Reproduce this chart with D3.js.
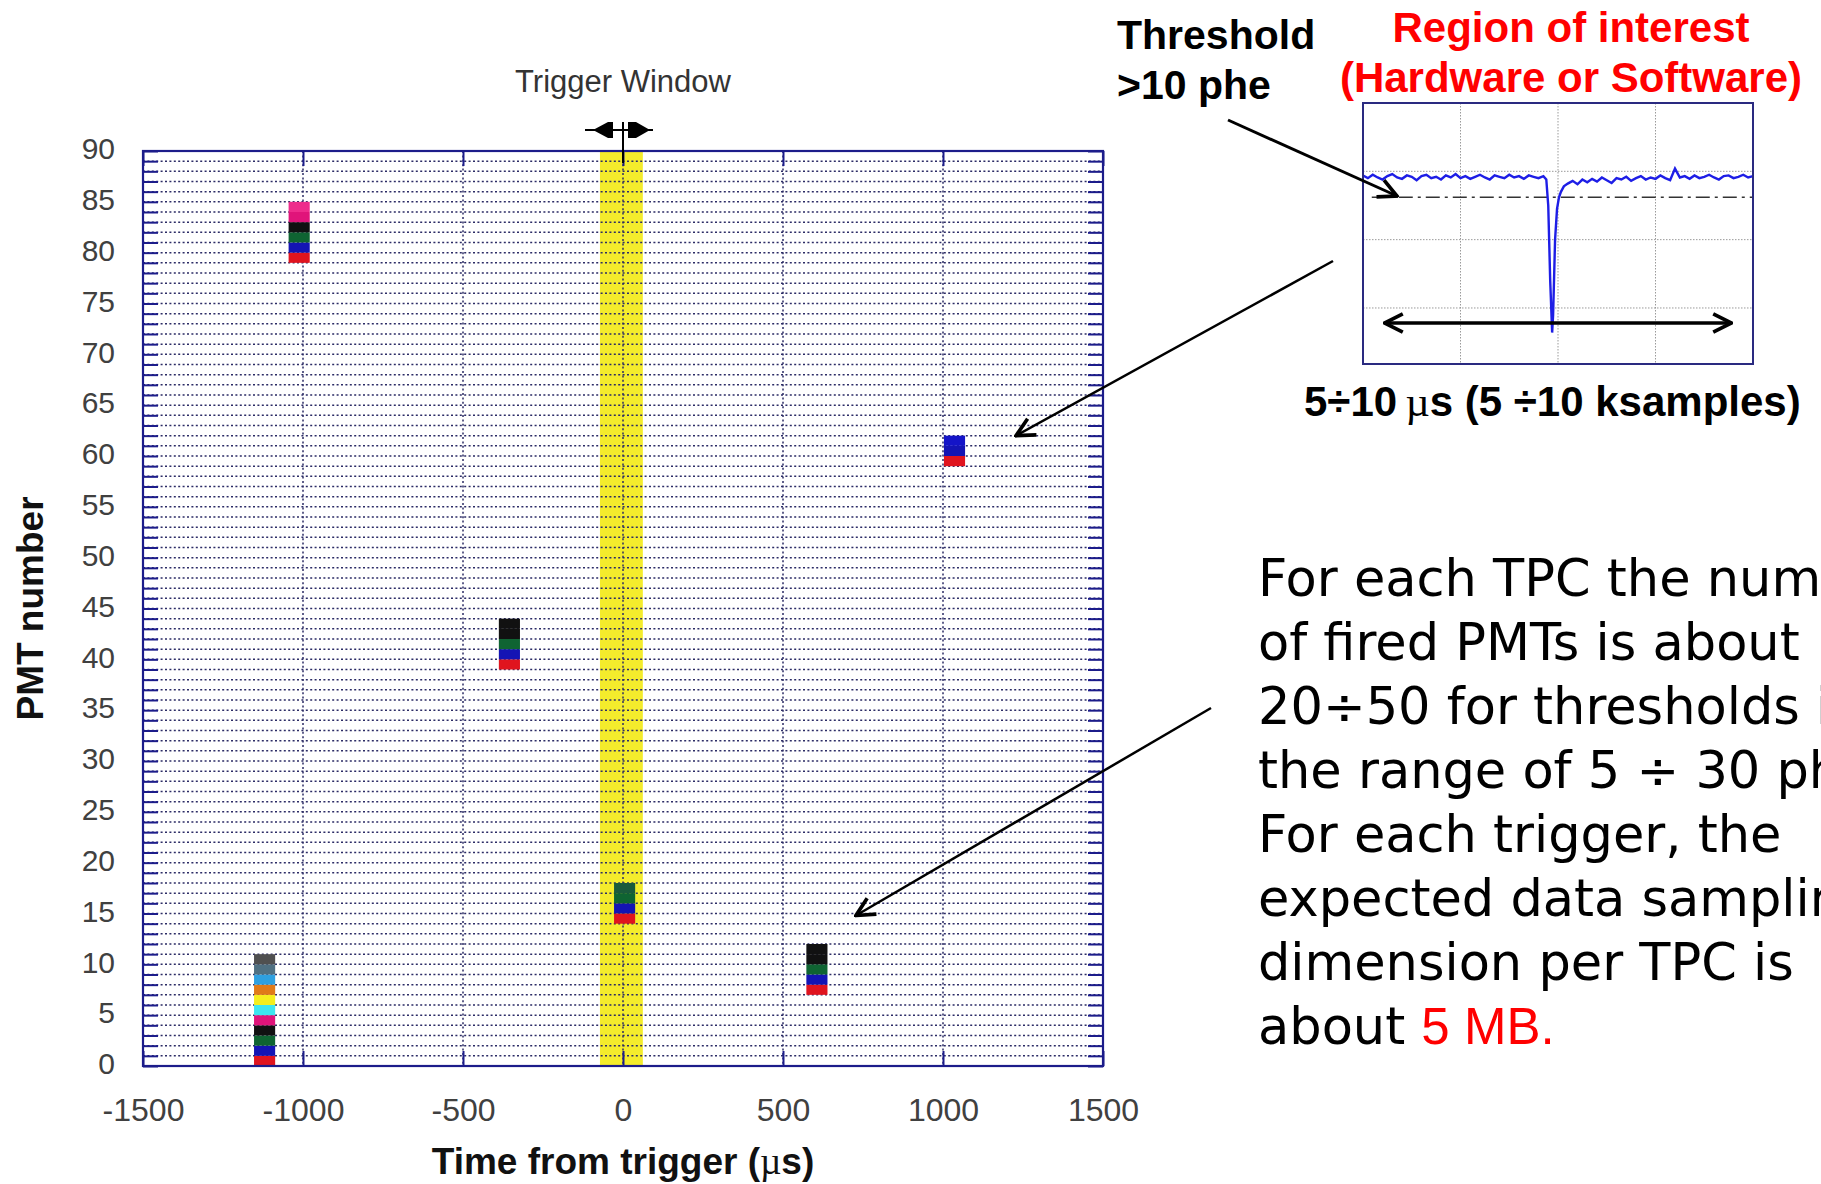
<!DOCTYPE html>
<html>
<head>
<meta charset="utf-8">
<script src="https://cdn.jsdelivr.net/npm/d3@7"></script>
<style>
  body { margin: 0; background: #fff; }
  svg { display: block; }
</style>
</head>
<body>
<div id="chart"></div>
<script>
// ---- data ----
// x ticks (time from trigger, us) and y ticks (PMT number)
var xTicks = [-1500, -1000, -500, 0, 500, 1000, 1500];
var yTicks = [0, 5, 10, 15, 20, 25, 30, 35, 40, 45, 50, 55, 60, 65, 70, 75, 80, 85, 90];

// trigger window band (us)
var windowRange = [-72, 62];

// fired PMT clusters: time, first PMT, colour of each stacked cell (bottom up)
var hitTimes = [-1120, -1012, -355, 5, 606, 1036];
var hitStart = [0, 79, 39, 14, 7, 59];
var hitColors = [
  ["#e0141e", "#1414b4", "#0f6432", "#111111", "#e0147a", "#3ee6f0", "#f5ee1e", "#e07a18", "#2ea0e0", "#4f7082", "#505050"],
  ["#e0141e", "#1414b4", "#0f6432", "#111111", "#e0147a", "#ee2c8c"],
  ["#e0141e", "#1414b4", "#0f6432", "#111111", "#111111"],
  ["#e0141e", "#1414b4", "#0f6432", "#1a5a3c"],
  ["#e0141e", "#1414b4", "#0f6432", "#111111", "#111111"],
  ["#e0141e", "#1414b4", "#1414c8"]
];

// inset waveform (sample index, amplitude in grid units)
var traceS = [0, 5, 10, 15, 20, 25, 30, 35, 40, 45, 50, 55, 60, 65, 70, 75, 80, 85, 90, 95,
  100, 105, 110, 115, 120, 125, 130, 135, 140, 145, 150, 155, 160, 165, 170, 175, 180, 185,
  188, 190, 192, 194, 195, 197, 199, 201, 203, 206,
  210, 215, 220, 225, 230, 235, 240, 245, 250, 255, 260, 265, 270, 275, 280, 285, 290, 295,
  300, 305, 310, 315, 320, 325, 330, 335, 340, 345, 350, 355, 360, 365, 370, 375, 380, 385,
  390, 395, 400];
var traceV = [-0.06, -0.10, -0.05, -0.09, -0.12, -0.07, -0.04, -0.09, -0.11, -0.06,
  -0.08, -0.13, -0.07, -0.05, -0.10, -0.08, -0.12, -0.06, -0.09, -0.04,
  -0.10, -0.07, -0.11, -0.08, -0.05, -0.09, -0.12, -0.06, -0.08, -0.10,
  -0.05, -0.09, -0.07, -0.11, -0.06, -0.08, -0.10, -0.07,
  -0.12, -0.50, -1.60, -2.36, -2.10, -1.00, -0.55, -0.38, -0.30, -0.22,
  -0.18, -0.14, -0.19, -0.12, -0.16, -0.11, -0.15, -0.09, -0.13, -0.17,
  -0.10, -0.12, -0.08, -0.14, -0.10, -0.07, -0.12, -0.09, -0.11, -0.06,
  -0.10, -0.13, 0.04, -0.09, -0.07, -0.11, -0.06, -0.10, -0.08, -0.05,
  -0.09, -0.12, -0.07, -0.06, -0.10, -0.08, -0.05, -0.09, -0.07];
var thresholdLevel = -0.38;

// text block on the right
var noteLines = [
  "For each TPC the number",
  "of fired PMTs is about",
  "20\u00f750 for thresholds in",
  "the range of 5 \u00f7 30 phe.",
  "For each trigger, the",
  "expected data sampling",
  "dimension per TPC is",
  "about "
];

// ---- layout ----
var width = 1821;
var height = 1184;
var plotLeft = 143, plotRight = 1103, plotTop = 151, plotBottom = 1066;
var frameColor = "#1c1c8a";
var gridColor = "#2c2c66";

var svg = d3.select("#chart")
  .append("svg")
  .attr("width", width)
  .attr("height", height);

var defs = svg.append("defs");
defs.append("marker")
  .attr("id", "openHead")
  .attr("viewBox", "0 0 12 12")
  .attr("refX", 11)
  .attr("refY", 6)
  .attr("markerWidth", 22)
  .attr("markerHeight", 22)
  .attr("markerUnits", "userSpaceOnUse")
  .attr("orient", "auto-start-reverse")
  .append("path")
  .attr("d", "M1,1 L11,6 L1,11")
  .attr("fill", "none")
  .attr("stroke", "#000")
  .attr("stroke-width", 2);

var xScale = d3.scaleLinear().domain([-1500, 1500]).range([plotLeft, plotRight]);
var yScale = d3.scaleLinear().domain([0, 90]).range([plotBottom, plotTop]);

// yellow trigger window band
svg.append("rect")
  .attr("x", xScale(windowRange[0]))
  .attr("y", plotTop)
  .attr("width", xScale(windowRange[1]) - xScale(windowRange[0]))
  .attr("height", plotBottom - plotTop)
  .attr("fill", "#f4ec2c");

// dotted grid, one line per PMT
svg.append("g")
  .selectAll("line")
  .data(d3.range(1, 90))
  .enter()
  .append("line")
  .attr("x1", plotLeft)
  .attr("x2", plotRight)
  .attr("y1", function(d) { return yScale(d); })
  .attr("y2", function(d) { return yScale(d); })
  .attr("stroke", gridColor)
  .attr("stroke-width", 1.5)
  .attr("stroke-dasharray", "2,2.4");

svg.append("g")
  .selectAll("line")
  .data(xTicks.slice(1, -1))
  .enter()
  .append("line")
  .attr("x1", function(d) { return xScale(d); })
  .attr("x2", function(d) { return xScale(d); })
  .attr("y1", plotTop)
  .attr("y2", plotBottom)
  .attr("stroke", gridColor)
  .attr("stroke-width", 1.5)
  .attr("stroke-dasharray", "2,2.4");

// inward tick marks, every PMT on both sides, every 500 us top and bottom
var tickLeft = svg.append("g")
  .attr("transform", "translate(" + plotLeft + ",0)")
  .call(d3.axisLeft(yScale).ticks(90).tickSize(-15).tickFormat(""));
var tickRight = svg.append("g")
  .attr("transform", "translate(" + plotRight + ",0)")
  .call(d3.axisRight(yScale).ticks(90).tickSize(-15).tickFormat(""));
var tickBottom = svg.append("g")
  .attr("transform", "translate(0," + plotBottom + ")")
  .call(d3.axisBottom(xScale).tickValues(xTicks).tickSize(-15).tickFormat(""));
var tickTop = svg.append("g")
  .attr("transform", "translate(0," + plotTop + ")")
  .call(d3.axisTop(xScale).tickValues(xTicks).tickSize(-15).tickFormat(""));
[tickLeft, tickRight, tickBottom, tickTop].forEach(function(g) {
  g.select(".domain").remove();
  g.selectAll("line").attr("stroke", frameColor).attr("stroke-width", 2);
});

// fired PMT cells
hitTimes.forEach(function(t, i) {
  svg.append("g")
    .selectAll("rect")
    .data(hitColors[i])
    .enter()
    .append("rect")
    .attr("x", xScale(t - 33))
    .attr("width", xScale(t + 33) - xScale(t - 33))
    .attr("y", function(c, j) { return yScale(hitStart[i] + j + 1); })
    .attr("height", function(c, j) { return yScale(hitStart[i] + j) - yScale(hitStart[i] + j + 1); })
    .attr("fill", function(c) { return c; });
});

// frame
svg.append("rect")
  .attr("x", plotLeft)
  .attr("y", plotTop)
  .attr("width", plotRight - plotLeft)
  .attr("height", plotBottom - plotTop)
  .attr("fill", "none")
  .attr("stroke", frameColor)
  .attr("stroke-width", 2.2);

// tick labels (plain integers, ascii minus)
var plainFormat = function(d) { return String(d); };
var xAxis = svg.append("g")
  .attr("transform", "translate(0," + plotBottom + ")")
  .call(d3.axisBottom(xScale).tickValues(xTicks).tickSize(0).tickPadding(32).tickFormat(plainFormat));
var yAxis = svg.append("g")
  .attr("transform", "translate(" + plotLeft + ",0)")
  .call(d3.axisLeft(yScale).tickValues(yTicks).tickSize(0).tickPadding(28).tickFormat(plainFormat));
[xAxis, yAxis].forEach(function(g) {
  g.select(".domain").remove();
  g.selectAll("text")
    .attr("fill", "#404040")
    .attr("font-family", "'Liberation Sans', Arial, sans-serif");
});
xAxis.selectAll("text").attr("font-size", 32);
yAxis.selectAll("text").attr("font-size", 30).attr("dy", "0.26em");

// axis titles
var xTitle = svg.append("text")
  .attr("x", xScale(0))
  .attr("y", 1174)
  .attr("text-anchor", "middle")
  .attr("font-family", "'Liberation Sans', Arial, sans-serif")
  .attr("font-weight", "bold")
  .attr("font-size", 37)
  .attr("fill", "#111");
xTitle.append("tspan").text("Time from trigger (");
xTitle.append("tspan").attr("font-family", "'Liberation Serif', serif").attr("font-weight", "normal").text("\u00b5");
xTitle.append("tspan").text("s)");

svg.append("text")
  .attr("transform", "translate(43," + yScale(45) + ")rotate(-90)")
  .attr("text-anchor", "middle")
  .attr("font-family", "'Liberation Sans', Arial, sans-serif")
  .attr("font-weight", "bold")
  .attr("font-size", 37)
  .attr("fill", "#111")
  .text("PMT number");

// trigger window label and arrows
svg.append("text")
  .attr("x", xScale(0))
  .attr("y", 92)
  .attr("text-anchor", "middle")
  .attr("font-family", "'Liberation Sans', Arial, sans-serif")
  .attr("font-size", 31)
  .attr("fill", "#333")
  .text("Trigger Window");

var arrowY = 130;
var cx = xScale(0);
var trig = svg.append("g").attr("fill", "#000").attr("stroke", "#000");
trig.append("line").attr("x1", cx - 38).attr("x2", cx + 30).attr("y1", arrowY).attr("y2", arrowY).attr("stroke-width", 2);
trig.append("line").attr("x1", cx).attr("x2", cx).attr("y1", arrowY - 8).attr("y2", plotTop + 12).attr("stroke-width", 2);
trig.append("path").attr("stroke", "none")
  .attr("d", "M" + (cx - 30) + "," + arrowY + " L" + (cx - 15) + "," + (arrowY - 8) +
    " L" + (cx - 10) + "," + (arrowY - 8) + " L" + (cx - 10) + "," + (arrowY + 8) +
    " L" + (cx - 15) + "," + (arrowY + 8) + " Z");
trig.append("path").attr("stroke", "none")
  .attr("d", "M" + (cx + 27) + "," + arrowY + " L" + (cx + 13) + "," + (arrowY - 8) +
    " L" + (cx + 5) + "," + (arrowY - 8) + " L" + (cx + 5) + "," + (arrowY + 8) +
    " L" + (cx + 13) + "," + (arrowY + 8) + " Z");

// ---- inset waveform ----
var insX = d3.scaleLinear().domain([0, 400]).range([1363, 1753]);
var insY = d3.scaleLinear().domain([1, -2.82]).range([103, 364]);

var inset = svg.append("g");
inset.append("rect")
  .attr("x", insX(0)).attr("y", insY(1))
  .attr("width", insX(400) - insX(0)).attr("height", insY(-2.82) - insY(1))
  .attr("fill", "#fff");
inset.selectAll(".vg")
  .data([100, 200, 300])
  .enter()
  .append("line")
  .attr("x1", function(d) { return insX(d); })
  .attr("x2", function(d) { return insX(d); })
  .attr("y1", insY(1)).attr("y2", insY(-2.82))
  .attr("stroke", "#9a9a9a").attr("stroke-width", 1).attr("stroke-dasharray", "1.5,1.5");
inset.selectAll(".hg")
  .data([0, -1, -2])
  .enter()
  .append("line")
  .attr("y1", function(d) { return insY(d); })
  .attr("y2", function(d) { return insY(d); })
  .attr("x1", insX(0)).attr("x2", insX(400))
  .attr("stroke", "#9a9a9a").attr("stroke-width", 1).attr("stroke-dasharray", "1.5,1.5");

inset.append("line")
  .attr("x1", insX(9)).attr("x2", insX(400))
  .attr("y1", insY(thresholdLevel)).attr("y2", insY(thresholdLevel))
  .attr("stroke", "#333").attr("stroke-width", 1.5)
  .attr("stroke-dasharray", "14,5,3,5");

var traceLine = d3.line()
  .x(function(d, i) { return insX(traceS[i]); })
  .y(function(d) { return insY(d); });
inset.append("path")
  .attr("d", traceLine(traceV))
  .attr("fill", "none")
  .attr("stroke", "#1e1ee6")
  .attr("stroke-width", 2.4);

inset.append("line")
  .attr("x1", insX(22)).attr("x2", insX(378))
  .attr("y1", insY(-2.22)).attr("y2", insY(-2.22))
  .attr("stroke", "#000").attr("stroke-width", 3.5)
  .attr("marker-start", "url(#openHead)")
  .attr("marker-end", "url(#openHead)");

inset.append("rect")
  .attr("x", insX(0)).attr("y", insY(1))
  .attr("width", insX(400) - insX(0)).attr("height", insY(-2.82) - insY(1))
  .attr("fill", "none")
  .attr("stroke", "#2a2a80").attr("stroke-width", 2);

// ---- annotations ----
var boldFont = "'Liberation Sans', Arial, sans-serif";
svg.append("text").attr("x", 1117).attr("y", 49)
  .attr("font-family", boldFont).attr("font-weight", "bold").attr("font-size", 41)
  .attr("fill", "#000").text("Threshold");
svg.append("text").attr("x", 1117).attr("y", 99)
  .attr("font-family", boldFont).attr("font-weight", "bold").attr("font-size", 41)
  .attr("fill", "#000").text(">10 phe");
svg.append("text").attr("x", 1571).attr("y", 42).attr("text-anchor", "middle")
  .attr("font-family", boldFont).attr("font-weight", "bold").attr("font-size", 42)
  .attr("fill", "#f00").text("Region of interest");
svg.append("text").attr("x", 1571).attr("y", 92).attr("text-anchor", "middle")
  .attr("font-family", boldFont).attr("font-weight", "bold").attr("font-size", 42)
  .attr("fill", "#f00").text("(Hardware or Software)");

var span = svg.append("text").attr("x", 1304).attr("y", 416)
  .attr("font-family", boldFont).attr("font-weight", "bold").attr("font-size", 42)
  .attr("fill", "#000");
span.append("tspan").text("5\u00f710\u2009");
span.append("tspan").attr("font-family", "'Liberation Serif', serif").attr("font-weight", "normal").text("\u00b5");
span.append("tspan").text("s (5 \u00f710 ksamples)");

// arrows from the labels
svg.append("line")
  .attr("x1", 1228).attr("y1", 120).attr("x2", 1397).attr("y2", 196)
  .attr("stroke", "#000").attr("stroke-width", 3)
  .attr("marker-end", "url(#openHead)");
svg.append("line")
  .attr("x1", 1333).attr("y1", 261).attr("x2", xScale(1228)).attr("y2", yScale(62))
  .attr("stroke", "#000").attr("stroke-width", 2.5)
  .attr("marker-end", "url(#openHead)");
svg.append("line")
  .attr("x1", 1211).attr("y1", 708).attr("x2", xScale(728)).attr("y2", yScale(14.8))
  .attr("stroke", "#000").attr("stroke-width", 2.5)
  .attr("marker-end", "url(#openHead)");

// note text, one text element per line (runs off the right edge as in the slide)
var noteFont = "'Comic Sans MS', 'DejaVu Sans', sans-serif";
noteLines.forEach(function(line, i) {
  var t = svg.append("text")
    .attr("x", 1258)
    .attr("y", 596 + i * 64)
    .attr("font-family", noteFont)
    .attr("font-size", 51)
    .attr("fill", "#000")
    .text(line);
  if (i === noteLines.length - 1) {
    t.append("tspan")
      .attr("font-family", "'Liberation Sans', Arial, sans-serif")
      .attr("fill", "#f00")
      .text("5 MB.");
  }
});
</script>
</body>
</html>
